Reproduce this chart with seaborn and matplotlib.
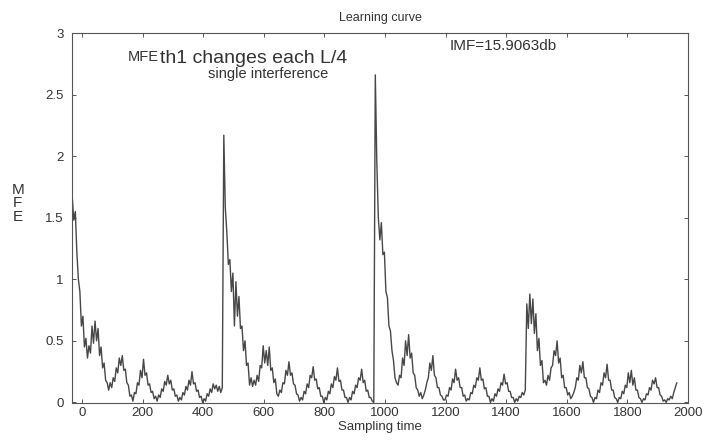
import numpy as np
import pandas as pd
import matplotlib
matplotlib.use("Agg")
import matplotlib.pyplot as plt
import seaborn as sns

# MFE values, one reading every 5 samples
first_sample = -32
sample_step = 5

# th1 reset at the start, then each L/4 (~every 500 samples)
mfe_seg1 = [1.66, 1.48, 1.55, 1.22, 1.00, 0.90, 0.62, 0.70, 0.45, 0.52,
            0.36, 0.46, 0.40, 0.62, 0.48, 0.66, 0.50, 0.60, 0.38, 0.45,
            0.28, 0.32, 0.18, 0.16, 0.10, 0.16, 0.12, 0.20, 0.17, 0.28,
            0.24, 0.36, 0.30, 0.38, 0.26, 0.27, 0.16, 0.14, 0.05, 0.06,
            0.01, 0.08, 0.07, 0.16, 0.14, 0.26, 0.20, 0.35, 0.22, 0.24,
            0.14, 0.15, 0.08, 0.09, 0.03, 0.05, 0.01, 0.06, 0.04, 0.11,
            0.09, 0.17, 0.14, 0.22, 0.15, 0.18, 0.10, 0.11, 0.05, 0.06,
            0.01, 0.04, 0.02, 0.08, 0.06, 0.13, 0.10, 0.18, 0.14, 0.25,
            0.15, 0.16, 0.09, 0.10, 0.04, 0.05, 0.00, 0.03, 0.01, 0.07,
            0.05, 0.11, 0.08, 0.15, 0.11, 0.14, 0.09, 0.13, 0.08, 0.12]
mfe_seg2 = [2.17, 1.58, 1.38, 1.12, 1.16, 0.90, 1.05, 0.62, 0.98, 0.70,
            0.86, 0.60, 0.62, 0.42, 0.50, 0.30, 0.32, 0.14, 0.20, 0.13,
            0.18, 0.14, 0.22, 0.17, 0.30, 0.28, 0.46, 0.32, 0.42, 0.30,
            0.45, 0.26, 0.28, 0.16, 0.19, 0.07, 0.05, 0.10, 0.08, 0.16,
            0.15, 0.26, 0.22, 0.33, 0.22, 0.24, 0.15, 0.14, 0.07, 0.06,
            0.01, 0.04, 0.02, 0.09, 0.07, 0.15, 0.12, 0.22, 0.20, 0.29,
            0.18, 0.19, 0.11, 0.12, 0.05, 0.05, 0.00, 0.04, 0.02, 0.09,
            0.07, 0.15, 0.12, 0.21, 0.18, 0.28, 0.17, 0.18, 0.10, 0.10,
            0.04, 0.04, 0.00, 0.04, 0.02, 0.09, 0.07, 0.14, 0.12, 0.20,
            0.18, 0.27, 0.16, 0.18, 0.09, 0.10, 0.04, 0.04, 0.01, 0.00]
mfe_seg3 = [2.66, 1.95, 1.50, 1.32, 1.46, 1.20, 1.22, 0.90, 0.85, 0.62,
            0.58, 0.42, 0.34, 0.20, 0.16, 0.14, 0.22, 0.20, 0.36, 0.30,
            0.50, 0.38, 0.55, 0.36, 0.40, 0.24, 0.22, 0.12, 0.10, 0.05,
            0.08, 0.03, 0.06, 0.10, 0.16, 0.20, 0.32, 0.26, 0.38, 0.22,
            0.20, 0.12, 0.12, 0.06, 0.05, 0.02, 0.02, 0.06, 0.05, 0.12,
            0.10, 0.19, 0.16, 0.27, 0.18, 0.20, 0.12, 0.12, 0.05, 0.06,
            0.01, 0.03, 0.02, 0.08, 0.07, 0.14, 0.12, 0.20, 0.18, 0.28,
            0.18, 0.19, 0.11, 0.12, 0.05, 0.05, 0.00, 0.03, 0.01, 0.07,
            0.05, 0.11, 0.09, 0.16, 0.14, 0.23, 0.15, 0.16, 0.09, 0.09,
            0.04, 0.04, 0.00, 0.03, 0.01, 0.05, 0.04, 0.08, 0.06, 0.10]
mfe_seg4 = [0.80, 0.60, 0.88, 0.64, 0.84, 0.56, 0.72, 0.42, 0.52, 0.30,
            0.34, 0.16, 0.18, 0.14, 0.22, 0.18, 0.28, 0.30, 0.42, 0.38,
            0.50, 0.32, 0.36, 0.20, 0.22, 0.12, 0.12, 0.06, 0.08, 0.03,
            0.05, 0.08, 0.12, 0.20, 0.18, 0.30, 0.24, 0.33, 0.20, 0.20,
            0.12, 0.11, 0.05, 0.04, 0.00, 0.04, 0.03, 0.10, 0.08, 0.16,
            0.14, 0.24, 0.20, 0.31, 0.18, 0.18, 0.10, 0.10, 0.04, 0.03,
            0.00, 0.04, 0.03, 0.09, 0.07, 0.14, 0.12, 0.24, 0.16, 0.26,
            0.14, 0.20, 0.10, 0.10, 0.04, 0.03, 0.00, 0.03, 0.02, 0.07,
            0.06, 0.12, 0.10, 0.18, 0.15, 0.20, 0.12, 0.12, 0.06, 0.05,
            0.01, 0.02, 0.00, 0.03, 0.02, 0.05, 0.03, 0.08, 0.12, 0.16]

x_ticks = [0, 200, 400, 600, 800, 1000, 1200, 1400, 1600, 1800, 2000]
y_ticks = [0, 0.5, 1, 1.5, 2, 2.5, 3]
y_tick_labels = ["0", "0.5", "1", "1.5", "2", "2.5", "3"]
imf_db = 15.9063

mfe = mfe_seg1 + mfe_seg2 + mfe_seg3 + mfe_seg4
time = first_sample + sample_step * np.arange(len(mfe))
df = pd.DataFrame({"Sampling time": time, "MFE": mfe})

sns.set_style("ticks")
plt.rcParams["font.family"] = ["Liberation Sans", "DejaVu Sans"]

fig = plt.figure(figsize=(7.21, 4.46), dpi=100)
ax = fig.add_axes([72 / 721, 1 - 403 / 446, 616 / 721, 370 / 446])

sns.lineplot(data=df, x="Sampling time", y="MFE", ax=ax,
             color="#474747", linewidth=1.0)

ax.set_xlim(-33, 1962)
ax.set_ylim(-0.005, 3)
ax.set_xticks(x_ticks)
ax.set_yticks(y_ticks)
ax.set_yticklabels(y_tick_labels)
ax.tick_params(direction="in", length=3, width=0.7, colors="#555555",
               labelcolor="#333333", labelsize=9.5, top=True, right=True)
ax.tick_params(axis="y", pad=6)
ax.tick_params(axis="x", pad=3)
for s in ax.spines.values():
    s.set_visible(True)
    s.set_color("#555555")
    s.set_linewidth(0.8)

ax.set_title("Learning curve", fontsize=9, color="#333333", pad=9)
ax.set_xlabel("Sampling time", fontsize=9.5, color="#333333", labelpad=1)
ax.set_ylabel("M\nF\nE", rotation=0, fontsize=11, color="#333333",
              linespacing=0.95, va="center", ha="center")
ax.yaxis.set_label_coords(-0.088, 0.54)

ax.text(0.09, 0.935, "MFE", transform=ax.transAxes, fontsize=10.5,
        color="#333333", va="center", ha="left")
ax.text(0.143, 0.93, "th1 changes each L/4", transform=ax.transAxes,
        fontsize=14, color="#333333", va="center", ha="left")
ax.text(0.221, 0.89, "single interference", transform=ax.transAxes,
        fontsize=10.5, color="#333333", va="center", ha="left")
ax.text(0.70, 0.965, "IMF=%.4fdb" % imf_db, transform=ax.transAxes,
        fontsize=11, color="#333333", va="center", ha="center")

fig.savefig("out.png", dpi=100)
